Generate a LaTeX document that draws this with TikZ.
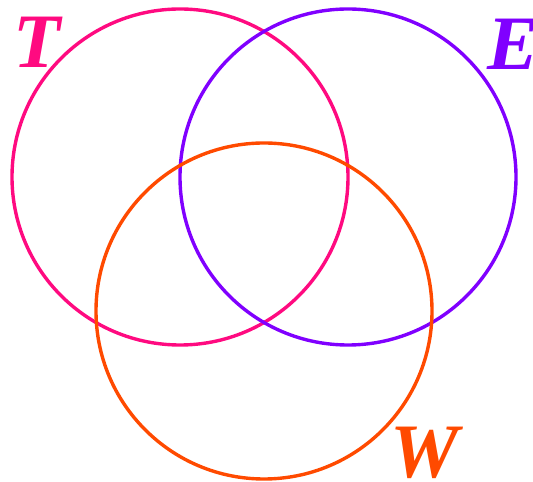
\documentclass[tikz,border=0pt]{standalone}
\usepackage{fontspec}
\setmainfont{Liberation Serif}
\usepackage{tikz}
\definecolor{Tpink}{HTML}{FF0A80}
\definecolor{Epurple}{HTML}{8000FF}
\definecolor{Worange}{HTML}{FF4A00}
\usetikzlibrary{positioning}

\begin{document}
\begin{tikzpicture}[
  x=1pt, y=1pt,
  set/.style={circle, draw, line width=3.4pt, minimum size=336pt, inner sep=0pt},
  setlabel/.style={font=\fontsize{77}{80}\selectfont\bfseries\itshape, inner sep=0pt}
]
\useasboundingbox (0,0) rectangle (533,482);
\node[set, draw=Tpink]    (T) at (180,305) {};
\node[set, draw=Epurple]  (E) at (348,305) {};
\node[set, draw=Worange]  (W) at (264,171) {};
\node[setlabel, text=Tpink]   (labT) at (37,440) {T};
\node[setlabel, text=Epurple] (labE) at (513,438) {E};
\node[setlabel, text=Worange] (labW) at (425,29) {W};
\end{tikzpicture}
\end{document}
